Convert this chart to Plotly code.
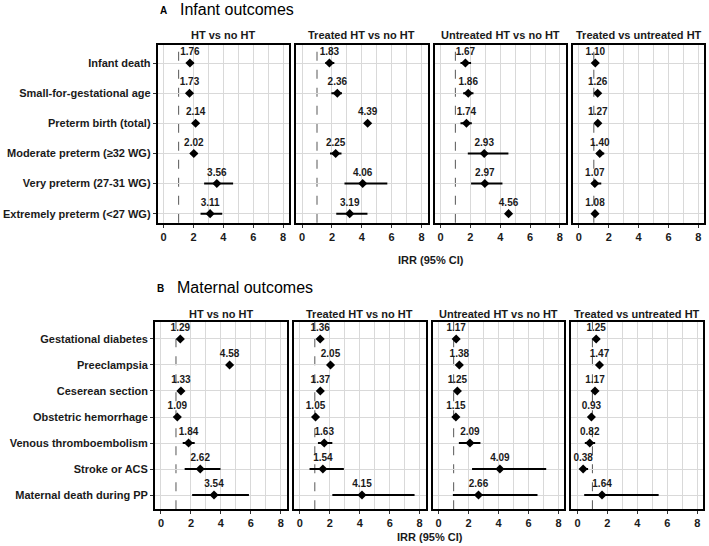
import plotly.graph_objects as go

W, H = 709, 546

# ---------------- data ----------------
infant_outcomes = ["Infant death", "Small-for-gestational age", "Preterm birth (total)",
                   "Moderate preterm (≥32 WG)", "Very preterm (27-31 WG)", "Extremely preterm (<27 WG)"]
maternal_outcomes = ["Gestational diabetes", "Preeclampsia", "Ceserean section", "Obstetric hemorrhage",
                     "Venous thromboembolism", "Stroke or ACS", "Maternal death during PP"]
comparisons = ["HT vs no HT", "Treated HT vs no HT", "Untreated HT vs no HT", "Treated vs untreated HT"]

# Infant outcomes: IRR, lower CI, upper CI per comparison
inf_irr_1 = [1.76, 1.73, 2.14, 2.02, 3.56, 3.11]
inf_lo_1 = [1.55, 1.58, 1.95, 1.80, 2.71, 2.47]
inf_hi_1 = [2.00, 1.90, 2.35, 2.25, 4.65, 3.92]

inf_irr_2 = [1.83, 2.36, 4.39, 2.25, 4.06, 3.19]
inf_lo_2 = [1.56, 1.96, 4.20, 1.87, 2.84, 2.29]
inf_hi_2 = [2.16, 2.67, 4.60, 2.64, 5.71, 4.38]

inf_irr_3 = [1.67, 1.86, 1.74, 2.93, 2.97, 4.56]
inf_lo_3 = [1.34, 1.52, 1.34, 1.83, 2.05, 4.40]
inf_hi_3 = [2.05, 2.21, 2.10, 4.55, 4.15, 4.75]

inf_irr_4 = [1.10, 1.26, 1.27, 1.40, 1.07, 1.08]
inf_lo_4 = [0.90, 1.10, 1.10, 1.20, 0.85, 0.90]
inf_hi_4 = [1.30, 1.40, 1.45, 1.70, 1.50, 1.25]

# Maternal outcomes
mat_irr_1 = [1.29, 4.58, 1.33, 1.09, 1.84, 2.62, 3.54]
mat_lo_1 = [1.20, 4.45, 1.22, 1.00, 1.45, 1.58, 2.08]
mat_hi_1 = [1.40, 4.70, 1.45, 1.20, 2.25, 3.97, 5.87]

mat_irr_2 = [1.36, 2.05, 1.37, 1.05, 1.63, 1.54, 4.15]
mat_lo_2 = [1.25, 1.90, 1.25, 0.95, 1.21, 0.65, 2.17]
mat_hi_2 = [1.50, 2.20, 1.50, 1.15, 2.17, 2.94, 7.66]

mat_irr_3 = [1.17, 1.38, 1.25, 1.15, 2.09, 4.09, 2.66]
mat_lo_3 = [1.05, 1.25, 1.10, 1.00, 1.35, 2.23, 0.95]
mat_hi_3 = [1.30, 1.50, 1.40, 1.30, 2.79, 7.18, 6.60]

mat_irr_4 = [1.25, 1.47, 1.17, 0.93, 0.82, 0.38, 1.64]
mat_lo_4 = [1.10, 1.30, 1.00, 0.80, 0.49, 0.16, 0.45]
mat_hi_4 = [1.40, 1.65, 1.35, 1.10, 1.18, 0.71, 5.42]

x_ticks = [0, 2, 4, 6, 8]
x_minor = [3, 5, 7]          # the grid line at 1 is replaced by the dashed reference line
ref_line = 1
axis_title = "IRR (95% CI)"

blocks = [
    dict(letter="A", title="Infant outcomes", cats=infant_outcomes,
         data=[(inf_irr_1, inf_lo_1, inf_hi_1), (inf_irr_2, inf_lo_2, inf_hi_2),
               (inf_irr_3, inf_lo_3, inf_hi_3), (inf_irr_4, inf_lo_4, inf_hi_4)]),
    dict(letter="B", title="Maternal outcomes", cats=maternal_outcomes,
         data=[(mat_irr_1, mat_lo_1, mat_hi_1), (mat_irr_2, mat_lo_2, mat_hi_2),
               (mat_irr_3, mat_lo_3, mat_hi_3), (mat_irr_4, mat_lo_4, mat_hi_4)]),
]

# ---------------- layout geometry (pixels) ----------------
geo = [
    dict(x0=157.7, x1=704.3, top=45.0, bottom=222.7, yrange=[5.3, -0.6],
         head_y=35, letter_xy=(163, 10), title_xy=(178, 9), xt_y=260, xt_x=431),
    dict(x0=155.0, x1=703.3, top=321.7, bottom=509.3, yrange=[6.55, -0.665],
         head_y=314, letter_xy=(160, 288), title_xy=(175, 287), xt_y=537, xt_x=430),
]
gap = 7.0
FONT = "Liberation Sans, Arial, sans-serif"
GRID = "#d9d9d9"

fig = go.Figure()
layout = dict(width=W, height=H, margin=dict(l=0, r=0, t=0, b=0),
              paper_bgcolor="white", plot_bgcolor="white", showlegend=False,
              font=dict(family=FONT, color="#1a1a1a"))
annotations = []
shapes = []


def px(v):
    return v / W


def py(v):
    return 1 - v / H


for b, (blk, g) in enumerate(zip(blocks, geo)):
    pw = (g["x1"] - g["x0"] - 3 * gap) / 4
    for p in range(4):
        k = b * 4 + p + 1
        xs = f"x{k}" if k > 1 else "x"
        ys = f"y{k}" if k > 1 else "y"
        xl = g["x0"] + p * (pw + gap)
        xr = xl + pw
        irr, lo, hi = blk["data"][p]
        fig.add_trace(go.Scatter(
            x=irr, y=blk["cats"], xaxis=xs, yaxis=ys,
            mode="markers+text",
            text=[f"{v:.2f}" for v in irr], textposition="top center",
            textfont=dict(family=FONT, size=10, color="#1a1a1a", weight="bold"),
            marker=dict(symbol="diamond", size=7, color="black"),
            error_x=dict(type="data", symmetric=False,
                         array=[h - v for h, v in zip(hi, irr)],
                         arrayminus=[v - l for v, l in zip(irr, lo)],
                         thickness=2, width=0, color="black"),
            cliponaxis=False, hoverinfo="skip"))
        layout[f"xaxis{k if k > 1 else ''}"] = dict(
            domain=[px(xl), px(xr)], anchor=ys, range=[-0.4, 8.4],
            tickvals=x_ticks, ticktext=[str(t) for t in x_ticks],
            showgrid=True, gridcolor=GRID, gridwidth=1,
            minor=dict(tickvals=x_minor, showgrid=True, gridcolor=GRID, gridwidth=1, ticks=""),
            zeroline=False, showline=True, mirror=True, linecolor="black", linewidth=1.8,
            ticks="outside", ticklen=3, tickcolor="#333", tickwidth=1,
            tickfont=dict(family=FONT, size=11, color="#1a1a1a", weight="bold"))
        layout[f"yaxis{k if k > 1 else ''}"] = dict(
            domain=[py(g["bottom"]), py(g["top"])], anchor=xs, type="category",
            categoryorder="array", categoryarray=blk["cats"], range=g["yrange"],
            showgrid=True, gridcolor=GRID, gridwidth=1, zeroline=False,
            showline=True, mirror=True, linecolor="black", linewidth=1.8,
            showticklabels=(p == 0), ticks="outside" if p == 0 else "",
            ticklen=3, tickcolor="#333", tickwidth=1,
            tickfont=dict(family=FONT, size=11, color="#1a1a1a", weight="bold"))
        shapes.append(dict(type="line", xref=xs, yref=f"{ys} domain", x0=ref_line, x1=ref_line,
                           y0=0, y1=1, line=dict(color="#666666", width=1.1, dash="dash"), layer="below"))
        annotations.append(dict(text=comparisons[p], xref="paper", yref="paper",
                                x=px((xl + xr) / 2), y=py(g["head_y"]), xanchor="center", yanchor="middle",
                                showarrow=False, font=dict(family=FONT, size=11, color="#1a1a1a", weight="bold")))
    annotations.append(dict(text=blk["letter"], xref="paper", yref="paper",
                            x=px(g["letter_xy"][0]), y=py(g["letter_xy"][1]), xanchor="center", yanchor="middle",
                            showarrow=False, font=dict(family=FONT, size=10, color="black", weight="bold")))
    annotations.append(dict(text=blk["title"], xref="paper", yref="paper",
                            x=px(g["title_xy"][0]), y=py(g["title_xy"][1]), xanchor="left", yanchor="middle",
                            showarrow=False, font=dict(family=FONT, size=16, color="black")))
    annotations.append(dict(text=axis_title, xref="paper", yref="paper",
                            x=px(g["xt_x"]), y=py(g["xt_y"]), xanchor="center", yanchor="middle",
                            showarrow=False, font=dict(family=FONT, size=11, color="#1a1a1a", weight="bold")))

layout["annotations"] = annotations
layout["shapes"] = shapes
fig.update_layout(**layout)
# remove the browser's default 8px body margin so the figure fills the window
fig.write_html("out.html", config={"displayModeBar": False},
               post_script="document.body.style.margin='0';")
